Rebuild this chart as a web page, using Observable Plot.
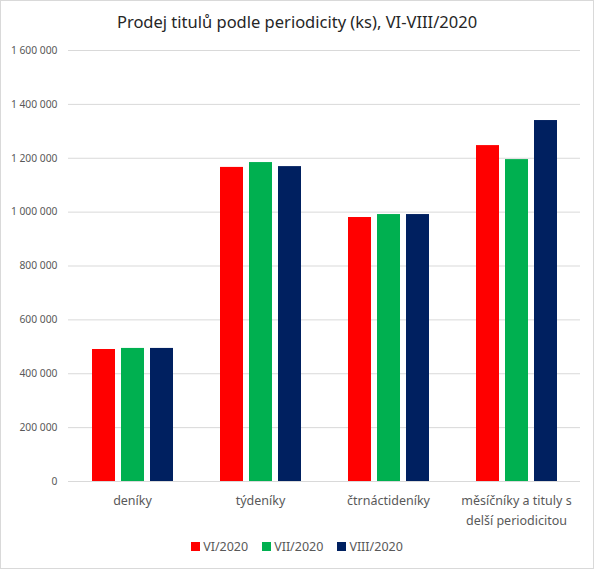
<!DOCTYPE html>
<html>
<head>
<meta charset="utf-8">
<script src="https://cdn.jsdelivr.net/npm/d3@7"></script>
<script src="https://cdn.jsdelivr.net/npm/@observablehq/plot@0.6"></script>
<style>
  body { margin: 0; background: #fff; font-family: "Noto Sans", sans-serif; }
  #wrap { position: relative; width: 594px; height: 569px; overflow: hidden; }
  #frame { position: absolute; left: 0; top: 0; right: 0; bottom: 0; border: 1px solid #d9d9d9; pointer-events: none; }
  #title { height: 40px; line-height: 44px; text-align: center; font-size: 16.5px; color: #262626; }
  #legend { display: flex; justify-content: center; gap: 14px; margin-top: 10px; font-size: 12.5px; color: #595959; line-height: 14px; }
  #legend span.sw { display: inline-block; width: 9px; height: 9px; margin-right: 3px; }
</style>
</head>
<body>
<div id="wrap">
  <div id="title">Prodej titulů podle periodicity (ks), VI-VIII/2020</div>
  <div id="chart"></div>
  <div id="legend"></div>
  <div id="frame"></div>
</div>
<script>
// kategorie a hodnoty (ks)
const categories = ["deníky", "týdeníky", "čtrnáctideníky", "měsíčníky a tituly s\ndelší periodicitou"]
const series = ["VI/2020", "VII/2020", "VIII/2020"]
const colors = ["#ff0000", "#00b050", "#002060"]
const vi = [490000, 1166000, 980000, 1247000]
const vii = [494000, 1184000, 991000, 1195000]
const viii = [494000, 1169000, 991000, 1340000]
const yTicks = [0, 200000, 400000, 600000, 800000, 1000000, 1200000, 1400000, 1600000]

const values = [vi, vii, viii]
const data = categories.flatMap((c, i) => series.map((s, j) => ({cat: c, s: s, v: values[j][i]})))

const fmt = d => d3.format(",")(d).replace(/,/g, " ")

let chart = Plot.plot({
  width: 594,
  height: 490,
  marginLeft: 68,
  marginRight: 14,
  marginTop: 10,
  marginBottom: 49,
  fx: {domain: categories, padding: 0, label: null},
  x: {domain: series, paddingInner: 0.22, paddingOuter: 0.8, axis: null},
  y: {domain: [0, 1600000], label: null},
  color: {domain: series, range: colors},
  marks: [
    Plot.gridY(yTicks, {stroke: "#d9d9d9", strokeOpacity: 1}),
    Plot.axisY(yTicks, {tickSize: 0, tickPadding: 11, tickFormat: fmt, fontSize: 10.3, fill: "#595959", label: null}),
    Plot.axisFx({anchor: "bottom", tickSize: 0, tickPadding: 9, fontSize: 12.5, lineHeight: 1.6, fill: "#595959", label: null}),
    Plot.barY(data, {fx: "cat", x: "s", y: "v", fill: "s"})
  ],
  style: {
    background: "#ffffff",
    fontFamily: "Noto Sans"
  }
})
d3.select("#chart").append(() => chart)

const leg = d3.select("#legend")
series.forEach((s, i) => {
  const item = leg.append("div")
  item.append("span").attr("class", "sw").style("background", colors[i])
  item.append("span").text(s)
})
</script>
</body>
</html>
